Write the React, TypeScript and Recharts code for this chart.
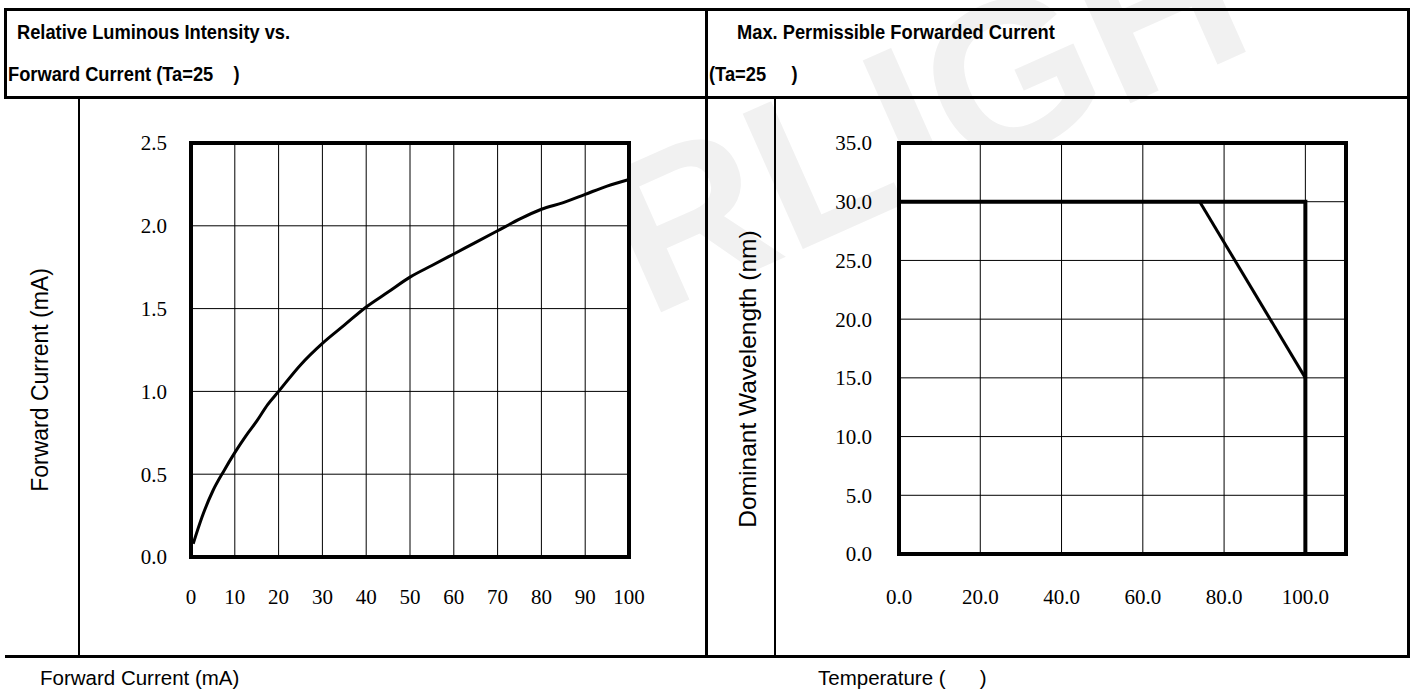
import { CartesianGrid, Line, LineChart, ReferenceArea, XAxis, YAxis } from "recharts";

// left panel: relative luminous intensity vs forward current
const currentMa = [0.5, 2.5, 5, 7.5, 10, 12.5, 15, 17.5, 20, 25, 30, 35, 40, 45, 50, 55, 60, 65, 70, 75, 80, 85, 90, 95, 100];
const intensity = [0.08, 0.24, 0.4, 0.52, 0.63, 0.73, 0.82, 0.92, 1.0, 1.16, 1.29, 1.4, 1.51, 1.6, 1.69, 1.76, 1.83, 1.9, 1.97, 2.04, 2.1, 2.14, 2.19, 2.24, 2.28];
const currentTicks = [0, 10, 20, 30, 40, 50, 60, 70, 80, 90, 100];
const intensityTicks = [0, 0.5, 1.0, 1.5, 2.0, 2.5];

// right panel: max permissible current vs temperature
const limitTemp = [0, 100, 100];
const limitCurrent = [30, 30, 0];
const derateTemp = [74, 100];
const derateCurrent = [30, 15];
const tempTicks = [0, 20, 40, 60, 80, 100];
const currentLimitTicks = [0, 5, 10, 15, 20, 25, 30, 35];

const curveData = currentMa.map((x, i) => ({ x, y: intensity[i] }));
const limitData = limitTemp.map((x, i) => ({ x, y: limitCurrent[i] }));
const derateData = derateTemp.map((x, i) => ({ x, y: derateCurrent[i] }));

const tickFont = { fill: "#000", fontSize: 21, fontFamily: '"Liberation Serif", "Times New Roman", serif' };
const headerStyle: React.CSSProperties = {
  position: "absolute",
  fontWeight: 700,
  fontSize: 21,
  whiteSpace: "pre",
  lineHeight: "24px",
  color: "#000",
  transform: "scaleX(0.87)",
  transformOrigin: "0 50%",
};
const labelStyle: React.CSSProperties = {
  position: "absolute",
  fontSize: 20.5,
  whiteSpace: "pre",
  lineHeight: "24px",
  color: "#000",
};

function Rule({ x, y, w, h }: { x: number; y: number; w: number; h: number }) {
  return <div style={{ position: "absolute", left: x, top: y, width: w, height: h, background: "#000" }} />;
}

export default function App() {
  return (
    <div
      style={{
        position: "absolute",
        left: 0,
        top: 0,
        width: 1416,
        height: 693,
        background: "#fff",
        overflow: "hidden",
        fontFamily: '"Liberation Sans", Arial, sans-serif',
      }}
    >
      {/* faint watermark behind everything */}
      <svg width={1416} height={693} style={{ position: "absolute", left: 0, top: 0 }}>
        <text
          x={0}
          y={0}
          transform="translate(648 318) rotate(-24)"
          fontSize={215}
          fontWeight={700}
          fontFamily='"Liberation Sans", Arial, sans-serif'
          fill="#f1f1f1"
        >
          RLIGH
        </text>
      </svg>

      {/* table rules */}
      <Rule x={4} y={8} w={1406} h={3} />
      <Rule x={4} y={96} w={1406} h={3} />
      <Rule x={4} y={8} w={3} h={91} />
      <Rule x={705} y={8} w={3} h={650} />
      <Rule x={1407} y={8} w={3} h={650} />
      <Rule x={78} y={98} w={2} h={558} />
      <Rule x={774} y={98} w={2} h={558} />
      <Rule x={5} y={655} w={1405} h={3} />

      <div style={{ ...headerStyle, left: 17, top: 20 }}>Relative Luminous Intensity vs.</div>
      <div style={{ ...headerStyle, left: 8, top: 62 }}>{"Forward Current (Ta=25    )"}</div>
      <div style={{ ...headerStyle, left: 737, top: 20 }}>Max. Permissible Forwarded Current</div>
      <div style={{ ...headerStyle, left: 709, top: 62 }}>{"(Ta=25     )"}</div>

      <div
        style={{
          ...labelStyle,
          fontSize: 23,
          left: 40,
          top: 380,
          transform: "translate(-50%, -50%) rotate(-90deg)",
        }}
      >
        Forward Current (mA)
      </div>
      <div
        style={{
          ...labelStyle,
          fontSize: 24.5,
          left: 748,
          top: 379,
          transform: "translate(-50%, -50%) rotate(-90deg)",
        }}
      >
        Dominant Wavelength (nm)
      </div>
      <div style={{ ...labelStyle, left: 40, top: 666 }}>Forward Current (mA)</div>
      <div style={{ ...labelStyle, left: 818, top: 666 }}>{"Temperature (      )"}</div>

      <div style={{ position: "absolute", left: 0, top: 0 }}>
        <LineChart width={700} height={660} margin={{ top: 143, right: 71, bottom: 53, left: 131 }}>
          <CartesianGrid stroke="#000" strokeWidth={1} fill="#fff" fillOpacity={1} />
          <XAxis
            type="number"
            dataKey="x"
            domain={[0, 100]}
            ticks={currentTicks}
            height={50}
            axisLine={false}
            tickLine={false}
            tickSize={0}
            tickMargin={32}
            tick={tickFont}
            interval={0}
          />
          <YAxis
            type="number"
            dataKey="y"
            domain={[0, 2.5]}
            ticks={intensityTicks}
            width={60}
            axisLine={false}
            tickLine={false}
            tickSize={0}
            tickMargin={24}
            tick={tickFont}
            tickFormatter={(v: number) => v.toFixed(1)}
            interval={0}
          />
          <ReferenceArea x1={0} x2={100} y1={0} y2={2.5} fill="none" fillOpacity={0} stroke="#000" strokeWidth={4} />
          <Line
            data={curveData}
            dataKey="y"
            type="monotone"
            stroke="#000"
            strokeWidth={3}
            dot={false}
            isAnimationActive={false}
          />
        </LineChart>
      </div>

      <div style={{ position: "absolute", left: 700, top: 0 }}>
        <LineChart width={700} height={660} margin={{ top: 143, right: 54, bottom: 56, left: 139 }}>
          <CartesianGrid stroke="#000" strokeWidth={1} fill="#fff" fillOpacity={1} />
          <XAxis
            type="number"
            dataKey="x"
            domain={[0, 110]}
            ticks={tempTicks}
            height={50}
            axisLine={false}
            tickLine={false}
            tickSize={0}
            tickMargin={35}
            tick={tickFont}
            tickFormatter={(v: number) => v.toFixed(1)}
            interval={0}
          />
          <YAxis
            type="number"
            dataKey="y"
            domain={[0, 35]}
            ticks={currentLimitTicks}
            width={60}
            axisLine={false}
            tickLine={false}
            tickSize={0}
            tickMargin={27}
            tick={tickFont}
            tickFormatter={(v: number) => v.toFixed(1)}
            interval={0}
          />
          <ReferenceArea x1={0} x2={110} y1={0} y2={35} fill="none" fillOpacity={0} stroke="#000" strokeWidth={4} />
          <Line
            data={limitData}
            dataKey="y"
            type="linear"
            stroke="#000"
            strokeWidth={4}
            dot={false}
            isAnimationActive={false}
          />
          <Line
            data={derateData}
            dataKey="y"
            type="linear"
            stroke="#000"
            strokeWidth={3}
            dot={false}
            isAnimationActive={false}
          />
        </LineChart>
      </div>
    </div>
  );
}
